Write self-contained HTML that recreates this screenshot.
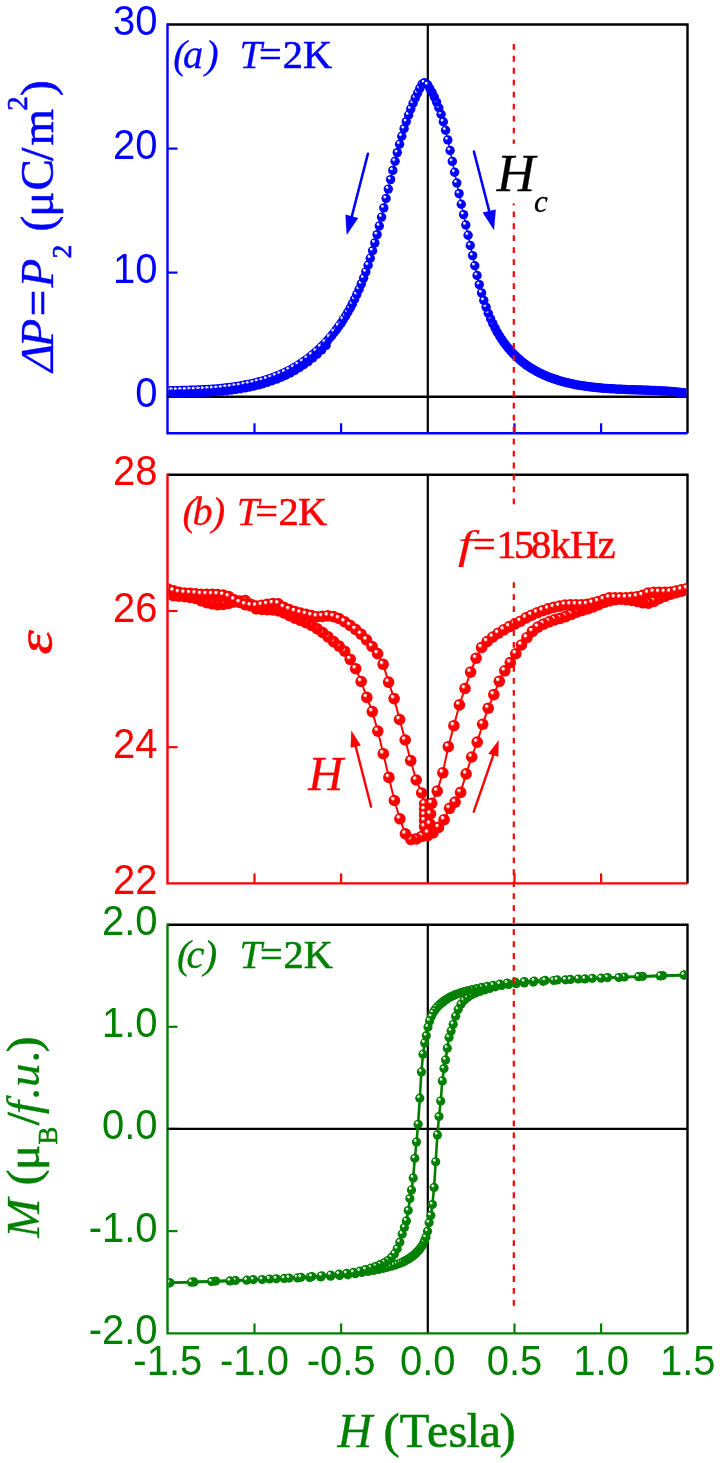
<!DOCTYPE html><html><head><meta charset="utf-8"><style>html,body{margin:0;padding:0;background:#fff;}svg{display:block;}</style></head><body><svg width="720" height="1463" viewBox="0 0 720 1463"><defs><radialGradient id="gb" cx="0.5" cy="0.5" r="0.5" fx="0.3" fy="0.26"><stop offset="0" stop-color="#ffffff"/><stop offset="0.16" stop-color="#ffffff"/><stop offset="0.4" stop-color="#0000ff"/><stop offset="1" stop-color="#0000ff"/></radialGradient><radialGradient id="gr" cx="0.5" cy="0.5" r="0.5" fx="0.3" fy="0.26"><stop offset="0" stop-color="#ffffff"/><stop offset="0.16" stop-color="#ffffff"/><stop offset="0.4" stop-color="#ff0000"/><stop offset="1" stop-color="#ff0000"/></radialGradient><radialGradient id="gg" cx="0.5" cy="0.5" r="0.5" fx="0.3" fy="0.26"><stop offset="0" stop-color="#ffffff"/><stop offset="0.16" stop-color="#ffffff"/><stop offset="0.4" stop-color="#008000"/><stop offset="1" stop-color="#008000"/></radialGradient><clipPath id="ca"><rect x="168.7" y="25.7" width="517.6" height="406.40000000000003"/></clipPath><clipPath id="cb"><rect x="168.7" y="476" width="517.6" height="406.20000000000005"/></clipPath><clipPath id="cc"><rect x="168.7" y="926" width="517.6" height="406.20000000000005"/></clipPath></defs><rect width="720" height="1463" fill="#fff"/><line x1="427.8" y1="24.5" x2="427.8" y2="433.3" stroke="#000" stroke-width="2.2"/><polyline fill="none" stroke="#000" stroke-width="2.4" points="167.5,24.5 687.5,24.5 687.5,433.3"/><polyline fill="none" stroke="#0000ff" stroke-width="2.4" points="167.5,23.3 167.5,433.3 687.5,433.3"/><line x1="254.5" y1="433.3" x2="254.5" y2="423.3" stroke="#0000ff" stroke-width="2.2"/><line x1="341.1" y1="433.3" x2="341.1" y2="423.3" stroke="#0000ff" stroke-width="2.2"/><line x1="514.5" y1="433.3" x2="514.5" y2="423.3" stroke="#0000ff" stroke-width="2.2"/><line x1="601.1" y1="433.3" x2="601.1" y2="423.3" stroke="#0000ff" stroke-width="2.2"/><line x1="167.5" y1="272.6" x2="177.5" y2="272.6" stroke="#0000ff" stroke-width="2.2"/><line x1="167.5" y1="148.6" x2="177.5" y2="148.6" stroke="#0000ff" stroke-width="2.2"/><line x1="167.5" y1="396.75" x2="687.5" y2="396.75" stroke="#000" stroke-width="2.4"/><line x1="427.8" y1="474.8" x2="427.8" y2="883.4" stroke="#000" stroke-width="2.2"/><polyline fill="none" stroke="#000" stroke-width="2.4" points="167.5,474.8 687.5,474.8 687.5,883.4"/><polyline fill="none" stroke="#ff0000" stroke-width="2.4" points="167.5,473.6 167.5,883.4 687.5,883.4"/><line x1="254.5" y1="883.4" x2="254.5" y2="873.4" stroke="#ff0000" stroke-width="2.2"/><line x1="341.1" y1="883.4" x2="341.1" y2="873.4" stroke="#ff0000" stroke-width="2.2"/><line x1="514.5" y1="883.4" x2="514.5" y2="873.4" stroke="#ff0000" stroke-width="2.2"/><line x1="601.1" y1="883.4" x2="601.1" y2="873.4" stroke="#ff0000" stroke-width="2.2"/><line x1="167.5" y1="747.2" x2="177.5" y2="747.2" stroke="#ff0000" stroke-width="2.2"/><line x1="167.5" y1="611" x2="177.5" y2="611" stroke="#ff0000" stroke-width="2.2"/><line x1="427.8" y1="924.8" x2="427.8" y2="1333.4" stroke="#000" stroke-width="2.2"/><polyline fill="none" stroke="#000" stroke-width="2.4" points="167.5,924.8 687.5,924.8 687.5,1333.4"/><polyline fill="none" stroke="#008000" stroke-width="2.4" points="167.5,923.5999999999999 167.5,1333.4 687.5,1333.4"/><line x1="254.5" y1="1333.4" x2="254.5" y2="1323.4" stroke="#008000" stroke-width="2.2"/><line x1="341.1" y1="1333.4" x2="341.1" y2="1323.4" stroke="#008000" stroke-width="2.2"/><line x1="514.5" y1="1333.4" x2="514.5" y2="1323.4" stroke="#008000" stroke-width="2.2"/><line x1="601.1" y1="1333.4" x2="601.1" y2="1323.4" stroke="#008000" stroke-width="2.2"/><line x1="167.5" y1="1231.1" x2="177.5" y2="1231.1" stroke="#008000" stroke-width="2.2"/><line x1="167.5" y1="1128.9" x2="177.5" y2="1128.9" stroke="#008000" stroke-width="2.2"/><line x1="167.5" y1="1026.8" x2="177.5" y2="1026.8" stroke="#008000" stroke-width="2.2"/><line x1="167.5" y1="1128.9" x2="687.5" y2="1128.9" stroke="#000" stroke-width="2.4"/><g clip-path="url(#ca)"><polyline fill="none" stroke="#0000ff" stroke-width="1.5" stroke-linejoin="round" points="167.8,390.7 170.1,390.7 172.3,390.6 174.6,390.6 176.8,390.6 179.1,390.6 181.3,390.5 183.6,390.5 185.8,390.4 188.1,390.4 190.3,390.3 192.6,390.3 194.8,390.2 197.1,390.1 199.3,390 201.6,389.9 203.8,389.8 206.1,389.7 208.3,389.5 210.6,389.4 212.8,389.2 215.1,389.1 217.3,388.9 219.6,388.7 221.8,388.5 224.1,388.2 226.3,388 228.6,387.7 230.8,387.4 233.1,387.1 235.3,386.8 237.6,386.4 239.8,386.1 242.1,385.7 244.3,385.3 246.6,384.8 248.8,384.4 251.1,383.9 253.3,383.4 255.6,382.9 257.8,382.3 260.1,381.7 262.3,381.1 264.6,380.4 266.8,379.7 269.1,379 271.3,378.2 273.6,377.4 275.8,376.5 278.1,375.6 280.3,374.7 282.6,373.7 284.8,372.6 287.1,371.5 289.3,370.4 291.6,369.2 293.8,367.9 296.1,366.6 298.3,365.2 300.6,363.7 302.8,362.2 305.1,360.6 307.3,359 309.6,357.2 311.8,355.4 314.1,353.5 316.3,351.6 318.6,349.5 320.8,347.4 323.1,345.1 325.3,342.8 327.6,340.4 329.8,337.8 332.1,335.1 334.3,332.3 336.6,329.4 338.8,326.3 341.1,323.1 343.3,319.6 345.6,316 347.8,312.2 350.1,308.2 352.3,303.9 354.6,299.3 356.8,294.5 359.1,289.3 361.3,283.9 363.6,278.1 365.8,271.9 368.1,265.2 370.3,258.2 372.6,250.8 374.8,242.9 377.1,234.6 379.3,226 381.6,217.1 383.8,207.9 386.1,198.5 388.3,189.1 390.6,179.6 392.8,170.4 395.1,161.3 397.3,152.6 399.6,144.2 401.8,136.2 404.1,128.6 406.3,121.6 408.6,115 410.8,108.9 413.1,103.2 415.3,97.9 417.6,93 419.8,88.4 422.1,84.1 424.3,82.8"/><polyline fill="none" stroke="#0000ff" stroke-width="1.5" stroke-linejoin="round" points="427.6,84.8 429.8,88.5 432.1,92.5 434.3,97 436.6,102.1 438.8,107.8 441.1,114.3 443.3,121.7 445.6,130.3 447.8,139.9 450.1,150.5 452.3,161.4 454.6,172.3 456.8,183 459.1,193.6 461.3,204.2 463.6,214.6 465.8,225 468.1,235.2 470.3,245.5 472.6,255.6 474.8,265.7 477.1,275.5 479.3,284.6 481.6,292.9 483.8,300.4 486.1,307.1 488.3,313.2 490.6,318.7 492.8,323.6 495.1,328.1 497.3,332.3 499.6,336 501.8,339.5 504.1,342.7 506.3,345.7 508.6,348.4 510.8,351 513,353.4 515.3,355.7 517.5,357.8 519.8,359.8 522,361.7 524.3,363.5 526.5,365.1 528.8,366.7 531,368.1 533.3,369.5 535.5,370.8 537.8,372 540,373.1 542.3,374.2 544.5,375.2 546.8,376.2 549,377.1 551.3,378 553.5,378.8 555.8,379.5 558,380.2 560.3,380.9 562.5,381.6 564.8,382.2 567,382.7 569.3,383.3 571.5,383.8 573.8,384.2 576,384.7 578.3,385.1 580.5,385.5 582.8,385.8 585,386.2 587.3,386.5 589.5,386.8 591.8,387.1 594,387.3 596.3,387.6 598.5,387.8 600.8,388 603,388.2 605.3,388.4 607.5,388.5 609.8,388.7 612,388.8 614.3,388.9 616.5,389.1 618.8,389.2 621,389.3 623.3,389.4 625.5,389.5 627.8,389.6 630,389.7 632.3,389.7 634.5,389.8 636.8,389.9 639,390 641.3,390 643.5,390.1 645.8,390.2 648,390.3 650.3,390.4 652.5,390.4 654.8,390.5 657,390.6 659.3,390.8 661.5,390.9 663.8,391 666,391.1 668.3,391.3 670.5,391.5 672.8,391.6 675,391.8 677.3,392.1 679.5,392.3 681.8,392.6 684,392.8 686.3,393.2"/><circle cx="168.6" cy="393.3" r="4.7" fill="#0000ff"/><circle cx="173.1" cy="393.2" r="4.7" fill="#0000ff"/><circle cx="177.6" cy="393.2" r="4.7" fill="#0000ff"/><circle cx="182.1" cy="393.1" r="4.7" fill="#0000ff"/><circle cx="186.6" cy="393" r="4.7" fill="#0000ff"/><circle cx="191.1" cy="392.9" r="4.7" fill="#0000ff"/><circle cx="195.6" cy="392.8" r="4.7" fill="#0000ff"/><circle cx="200.1" cy="392.6" r="4.7" fill="#0000ff"/><circle cx="204.6" cy="392.4" r="4.7" fill="#0000ff"/><circle cx="209.1" cy="392.1" r="4.7" fill="#0000ff"/><circle cx="213.6" cy="391.8" r="4.7" fill="#0000ff"/><circle cx="218.1" cy="391.5" r="4.7" fill="#0000ff"/><circle cx="222.6" cy="391.1" r="4.7" fill="#0000ff"/><circle cx="227.1" cy="390.6" r="4.7" fill="#0000ff"/><circle cx="231.6" cy="390" r="4.7" fill="#0000ff"/><circle cx="236.1" cy="389.4" r="4.7" fill="#0000ff"/><circle cx="240.6" cy="388.7" r="4.7" fill="#0000ff"/><circle cx="245.1" cy="387.9" r="4.7" fill="#0000ff"/><circle cx="249.6" cy="387" r="4.7" fill="#0000ff"/><circle cx="254.1" cy="386" r="4.7" fill="#0000ff"/><circle cx="258.6" cy="384.9" r="4.7" fill="#0000ff"/><circle cx="263.1" cy="383.7" r="4.7" fill="#0000ff"/><circle cx="267.6" cy="382.3" r="4.7" fill="#0000ff"/><circle cx="272.1" cy="380.8" r="4.7" fill="#0000ff"/><circle cx="276.6" cy="379.1" r="4.7" fill="#0000ff"/><circle cx="281.1" cy="377.3" r="4.7" fill="#0000ff"/><circle cx="285.6" cy="375.2" r="4.7" fill="#0000ff"/><circle cx="290.1" cy="373" r="4.7" fill="#0000ff"/><circle cx="294.6" cy="370.5" r="4.7" fill="#0000ff"/><circle cx="299.1" cy="367.8" r="4.7" fill="#0000ff"/><circle cx="303.6" cy="364.8" r="4.7" fill="#0000ff"/><circle cx="308.1" cy="361.6" r="4.7" fill="#0000ff"/><circle cx="312.6" cy="358" r="4.7" fill="#0000ff"/><circle cx="317.1" cy="354.2" r="4.7" fill="#0000ff"/><circle cx="321.6" cy="350" r="4.7" fill="#0000ff"/><circle cx="326.1" cy="345.4" r="4.7" fill="#0000ff"/><circle cx="167.8" cy="390.7" r="4.7" fill="url(#gb)"/><circle cx="170.1" cy="390.7" r="4.7" fill="url(#gb)"/><circle cx="172.3" cy="390.6" r="4.7" fill="url(#gb)"/><circle cx="174.6" cy="390.6" r="4.7" fill="url(#gb)"/><circle cx="176.8" cy="390.6" r="4.7" fill="url(#gb)"/><circle cx="179.1" cy="390.6" r="4.7" fill="url(#gb)"/><circle cx="181.3" cy="390.5" r="4.7" fill="url(#gb)"/><circle cx="183.6" cy="390.5" r="4.7" fill="url(#gb)"/><circle cx="185.8" cy="390.4" r="4.7" fill="url(#gb)"/><circle cx="188.1" cy="390.4" r="4.7" fill="url(#gb)"/><circle cx="190.3" cy="390.3" r="4.7" fill="url(#gb)"/><circle cx="192.6" cy="390.3" r="4.7" fill="url(#gb)"/><circle cx="194.8" cy="390.2" r="4.7" fill="url(#gb)"/><circle cx="197.1" cy="390.1" r="4.7" fill="url(#gb)"/><circle cx="199.3" cy="390" r="4.7" fill="url(#gb)"/><circle cx="201.6" cy="389.9" r="4.7" fill="url(#gb)"/><circle cx="203.8" cy="389.8" r="4.7" fill="url(#gb)"/><circle cx="206.1" cy="389.7" r="4.7" fill="url(#gb)"/><circle cx="208.3" cy="389.5" r="4.7" fill="url(#gb)"/><circle cx="210.6" cy="389.4" r="4.7" fill="url(#gb)"/><circle cx="212.8" cy="389.2" r="4.7" fill="url(#gb)"/><circle cx="215.1" cy="389.1" r="4.7" fill="url(#gb)"/><circle cx="217.3" cy="388.9" r="4.7" fill="url(#gb)"/><circle cx="219.6" cy="388.7" r="4.7" fill="url(#gb)"/><circle cx="221.8" cy="388.5" r="4.7" fill="url(#gb)"/><circle cx="224.1" cy="388.2" r="4.7" fill="url(#gb)"/><circle cx="226.3" cy="388" r="4.7" fill="url(#gb)"/><circle cx="228.6" cy="387.7" r="4.7" fill="url(#gb)"/><circle cx="230.8" cy="387.4" r="4.7" fill="url(#gb)"/><circle cx="233.1" cy="387.1" r="4.7" fill="url(#gb)"/><circle cx="235.3" cy="386.8" r="4.7" fill="url(#gb)"/><circle cx="237.6" cy="386.4" r="4.7" fill="url(#gb)"/><circle cx="239.8" cy="386.1" r="4.7" fill="url(#gb)"/><circle cx="242.1" cy="385.7" r="4.7" fill="url(#gb)"/><circle cx="244.3" cy="385.3" r="4.7" fill="url(#gb)"/><circle cx="246.6" cy="384.8" r="4.7" fill="url(#gb)"/><circle cx="248.8" cy="384.4" r="4.7" fill="url(#gb)"/><circle cx="251.1" cy="383.9" r="4.7" fill="url(#gb)"/><circle cx="253.3" cy="383.4" r="4.7" fill="url(#gb)"/><circle cx="255.6" cy="382.9" r="4.7" fill="url(#gb)"/><circle cx="257.8" cy="382.3" r="4.7" fill="url(#gb)"/><circle cx="260.1" cy="381.7" r="4.7" fill="url(#gb)"/><circle cx="262.3" cy="381.1" r="4.7" fill="url(#gb)"/><circle cx="264.6" cy="380.4" r="4.7" fill="url(#gb)"/><circle cx="266.8" cy="379.7" r="4.7" fill="url(#gb)"/><circle cx="269.1" cy="379" r="4.7" fill="url(#gb)"/><circle cx="271.3" cy="378.2" r="4.7" fill="url(#gb)"/><circle cx="273.6" cy="377.4" r="4.7" fill="url(#gb)"/><circle cx="275.8" cy="376.5" r="4.7" fill="url(#gb)"/><circle cx="278.1" cy="375.6" r="4.7" fill="url(#gb)"/><circle cx="280.3" cy="374.7" r="4.7" fill="url(#gb)"/><circle cx="282.6" cy="373.7" r="4.7" fill="url(#gb)"/><circle cx="284.8" cy="372.6" r="4.7" fill="url(#gb)"/><circle cx="287.1" cy="371.5" r="4.7" fill="url(#gb)"/><circle cx="289.3" cy="370.4" r="4.7" fill="url(#gb)"/><circle cx="291.6" cy="369.2" r="4.7" fill="url(#gb)"/><circle cx="293.8" cy="367.9" r="4.7" fill="url(#gb)"/><circle cx="296.1" cy="366.6" r="4.7" fill="url(#gb)"/><circle cx="298.3" cy="365.2" r="4.7" fill="url(#gb)"/><circle cx="300.6" cy="363.7" r="4.7" fill="url(#gb)"/><circle cx="302.8" cy="362.2" r="4.7" fill="url(#gb)"/><circle cx="305.1" cy="360.6" r="4.7" fill="url(#gb)"/><circle cx="307.3" cy="359" r="4.7" fill="url(#gb)"/><circle cx="309.6" cy="357.2" r="4.7" fill="url(#gb)"/><circle cx="311.8" cy="355.4" r="4.7" fill="url(#gb)"/><circle cx="314.1" cy="353.5" r="4.7" fill="url(#gb)"/><circle cx="316.3" cy="351.6" r="4.7" fill="url(#gb)"/><circle cx="318.6" cy="349.5" r="4.7" fill="url(#gb)"/><circle cx="320.8" cy="347.4" r="4.7" fill="url(#gb)"/><circle cx="323.1" cy="345.1" r="4.7" fill="url(#gb)"/><circle cx="325.3" cy="342.8" r="4.7" fill="url(#gb)"/><circle cx="327.6" cy="340.4" r="4.7" fill="url(#gb)"/><circle cx="329.8" cy="337.8" r="4.7" fill="url(#gb)"/><circle cx="332.1" cy="335.1" r="4.7" fill="url(#gb)"/><circle cx="334.3" cy="332.3" r="4.7" fill="url(#gb)"/><circle cx="336.6" cy="329.4" r="4.7" fill="url(#gb)"/><circle cx="338.8" cy="326.3" r="4.7" fill="url(#gb)"/><circle cx="341.1" cy="323.1" r="4.7" fill="url(#gb)"/><circle cx="343.3" cy="319.6" r="4.7" fill="url(#gb)"/><circle cx="345.6" cy="316" r="4.7" fill="url(#gb)"/><circle cx="347.8" cy="312.2" r="4.7" fill="url(#gb)"/><circle cx="350.1" cy="308.2" r="4.7" fill="url(#gb)"/><circle cx="352.3" cy="303.9" r="4.7" fill="url(#gb)"/><circle cx="354.6" cy="299.3" r="4.7" fill="url(#gb)"/><circle cx="356.8" cy="294.5" r="4.7" fill="url(#gb)"/><circle cx="359.1" cy="289.3" r="4.7" fill="url(#gb)"/><circle cx="361.3" cy="283.9" r="4.7" fill="url(#gb)"/><circle cx="363.6" cy="278.1" r="4.7" fill="url(#gb)"/><circle cx="365.8" cy="271.9" r="4.7" fill="url(#gb)"/><circle cx="368.1" cy="265.2" r="4.7" fill="url(#gb)"/><circle cx="370.3" cy="258.2" r="4.7" fill="url(#gb)"/><circle cx="372.6" cy="250.8" r="4.7" fill="url(#gb)"/><circle cx="374.8" cy="242.9" r="4.7" fill="url(#gb)"/><circle cx="377.1" cy="234.6" r="4.7" fill="url(#gb)"/><circle cx="379.3" cy="226" r="4.7" fill="url(#gb)"/><circle cx="381.6" cy="217.1" r="4.7" fill="url(#gb)"/><circle cx="383.8" cy="207.9" r="4.7" fill="url(#gb)"/><circle cx="386.1" cy="198.5" r="4.7" fill="url(#gb)"/><circle cx="388.3" cy="189.1" r="4.7" fill="url(#gb)"/><circle cx="390.6" cy="179.6" r="4.7" fill="url(#gb)"/><circle cx="392.8" cy="170.4" r="4.7" fill="url(#gb)"/><circle cx="395.1" cy="161.3" r="4.7" fill="url(#gb)"/><circle cx="397.3" cy="152.6" r="4.7" fill="url(#gb)"/><circle cx="399.6" cy="144.2" r="4.7" fill="url(#gb)"/><circle cx="401.8" cy="136.2" r="4.7" fill="url(#gb)"/><circle cx="404.1" cy="128.6" r="4.7" fill="url(#gb)"/><circle cx="406.3" cy="121.6" r="4.7" fill="url(#gb)"/><circle cx="408.6" cy="115" r="4.7" fill="url(#gb)"/><circle cx="410.8" cy="108.9" r="4.7" fill="url(#gb)"/><circle cx="413.1" cy="103.2" r="4.7" fill="url(#gb)"/><circle cx="415.3" cy="97.9" r="4.7" fill="url(#gb)"/><circle cx="417.6" cy="93" r="4.7" fill="url(#gb)"/><circle cx="419.8" cy="88.4" r="4.7" fill="url(#gb)"/><circle cx="422.1" cy="84.1" r="4.7" fill="url(#gb)"/><circle cx="424.3" cy="82.8" r="4.7" fill="url(#gb)"/><circle cx="686.3" cy="393.2" r="4.7" fill="url(#gb)"/><circle cx="684" cy="392.8" r="4.7" fill="url(#gb)"/><circle cx="681.8" cy="392.6" r="4.7" fill="url(#gb)"/><circle cx="679.5" cy="392.3" r="4.7" fill="url(#gb)"/><circle cx="677.3" cy="392.1" r="4.7" fill="url(#gb)"/><circle cx="675" cy="391.8" r="4.7" fill="url(#gb)"/><circle cx="672.8" cy="391.6" r="4.7" fill="url(#gb)"/><circle cx="670.5" cy="391.5" r="4.7" fill="url(#gb)"/><circle cx="668.3" cy="391.3" r="4.7" fill="url(#gb)"/><circle cx="666" cy="391.1" r="4.7" fill="url(#gb)"/><circle cx="663.8" cy="391" r="4.7" fill="url(#gb)"/><circle cx="661.5" cy="390.9" r="4.7" fill="url(#gb)"/><circle cx="659.3" cy="390.8" r="4.7" fill="url(#gb)"/><circle cx="657" cy="390.6" r="4.7" fill="url(#gb)"/><circle cx="654.8" cy="390.5" r="4.7" fill="url(#gb)"/><circle cx="652.5" cy="390.4" r="4.7" fill="url(#gb)"/><circle cx="650.3" cy="390.4" r="4.7" fill="url(#gb)"/><circle cx="648" cy="390.3" r="4.7" fill="url(#gb)"/><circle cx="645.8" cy="390.2" r="4.7" fill="url(#gb)"/><circle cx="643.5" cy="390.1" r="4.7" fill="url(#gb)"/><circle cx="641.3" cy="390" r="4.7" fill="url(#gb)"/><circle cx="639" cy="390" r="4.7" fill="url(#gb)"/><circle cx="636.8" cy="389.9" r="4.7" fill="url(#gb)"/><circle cx="634.5" cy="389.8" r="4.7" fill="url(#gb)"/><circle cx="632.3" cy="389.7" r="4.7" fill="url(#gb)"/><circle cx="630" cy="389.7" r="4.7" fill="url(#gb)"/><circle cx="627.8" cy="389.6" r="4.7" fill="url(#gb)"/><circle cx="625.5" cy="389.5" r="4.7" fill="url(#gb)"/><circle cx="623.3" cy="389.4" r="4.7" fill="url(#gb)"/><circle cx="621" cy="389.3" r="4.7" fill="url(#gb)"/><circle cx="618.8" cy="389.2" r="4.7" fill="url(#gb)"/><circle cx="616.5" cy="389.1" r="4.7" fill="url(#gb)"/><circle cx="614.3" cy="388.9" r="4.7" fill="url(#gb)"/><circle cx="612" cy="388.8" r="4.7" fill="url(#gb)"/><circle cx="609.8" cy="388.7" r="4.7" fill="url(#gb)"/><circle cx="607.5" cy="388.5" r="4.7" fill="url(#gb)"/><circle cx="605.3" cy="388.4" r="4.7" fill="url(#gb)"/><circle cx="603" cy="388.2" r="4.7" fill="url(#gb)"/><circle cx="600.8" cy="388" r="4.7" fill="url(#gb)"/><circle cx="598.5" cy="387.8" r="4.7" fill="url(#gb)"/><circle cx="596.3" cy="387.6" r="4.7" fill="url(#gb)"/><circle cx="594" cy="387.3" r="4.7" fill="url(#gb)"/><circle cx="591.8" cy="387.1" r="4.7" fill="url(#gb)"/><circle cx="589.5" cy="386.8" r="4.7" fill="url(#gb)"/><circle cx="587.3" cy="386.5" r="4.7" fill="url(#gb)"/><circle cx="585" cy="386.2" r="4.7" fill="url(#gb)"/><circle cx="582.8" cy="385.8" r="4.7" fill="url(#gb)"/><circle cx="580.5" cy="385.5" r="4.7" fill="url(#gb)"/><circle cx="578.3" cy="385.1" r="4.7" fill="url(#gb)"/><circle cx="576" cy="384.7" r="4.7" fill="url(#gb)"/><circle cx="573.8" cy="384.2" r="4.7" fill="url(#gb)"/><circle cx="571.5" cy="383.8" r="4.7" fill="url(#gb)"/><circle cx="569.3" cy="383.3" r="4.7" fill="url(#gb)"/><circle cx="567" cy="382.7" r="4.7" fill="url(#gb)"/><circle cx="564.8" cy="382.2" r="4.7" fill="url(#gb)"/><circle cx="562.5" cy="381.6" r="4.7" fill="url(#gb)"/><circle cx="560.3" cy="380.9" r="4.7" fill="url(#gb)"/><circle cx="558" cy="380.2" r="4.7" fill="url(#gb)"/><circle cx="555.8" cy="379.5" r="4.7" fill="url(#gb)"/><circle cx="553.5" cy="378.8" r="4.7" fill="url(#gb)"/><circle cx="551.3" cy="378" r="4.7" fill="url(#gb)"/><circle cx="549" cy="377.1" r="4.7" fill="url(#gb)"/><circle cx="546.8" cy="376.2" r="4.7" fill="url(#gb)"/><circle cx="544.5" cy="375.2" r="4.7" fill="url(#gb)"/><circle cx="542.3" cy="374.2" r="4.7" fill="url(#gb)"/><circle cx="540" cy="373.1" r="4.7" fill="url(#gb)"/><circle cx="537.8" cy="372" r="4.7" fill="url(#gb)"/><circle cx="535.5" cy="370.8" r="4.7" fill="url(#gb)"/><circle cx="533.3" cy="369.5" r="4.7" fill="url(#gb)"/><circle cx="531" cy="368.1" r="4.7" fill="url(#gb)"/><circle cx="528.8" cy="366.7" r="4.7" fill="url(#gb)"/><circle cx="526.5" cy="365.1" r="4.7" fill="url(#gb)"/><circle cx="524.3" cy="363.5" r="4.7" fill="url(#gb)"/><circle cx="522" cy="361.7" r="4.7" fill="url(#gb)"/><circle cx="519.8" cy="359.8" r="4.7" fill="url(#gb)"/><circle cx="517.5" cy="357.8" r="4.7" fill="url(#gb)"/><circle cx="515.3" cy="355.7" r="4.7" fill="url(#gb)"/><circle cx="513" cy="353.4" r="4.7" fill="url(#gb)"/><circle cx="510.8" cy="351" r="4.7" fill="url(#gb)"/><circle cx="508.6" cy="348.4" r="4.7" fill="url(#gb)"/><circle cx="506.3" cy="345.7" r="4.7" fill="url(#gb)"/><circle cx="504.1" cy="342.7" r="4.7" fill="url(#gb)"/><circle cx="501.8" cy="339.5" r="4.7" fill="url(#gb)"/><circle cx="499.6" cy="336" r="4.7" fill="url(#gb)"/><circle cx="497.3" cy="332.3" r="4.7" fill="url(#gb)"/><circle cx="495.1" cy="328.1" r="4.7" fill="url(#gb)"/><circle cx="492.8" cy="323.6" r="4.7" fill="url(#gb)"/><circle cx="490.6" cy="318.7" r="4.7" fill="url(#gb)"/><circle cx="488.3" cy="313.2" r="4.7" fill="url(#gb)"/><circle cx="486.1" cy="307.1" r="4.7" fill="url(#gb)"/><circle cx="483.8" cy="300.4" r="4.7" fill="url(#gb)"/><circle cx="481.6" cy="292.9" r="4.7" fill="url(#gb)"/><circle cx="479.3" cy="284.6" r="4.7" fill="url(#gb)"/><circle cx="477.1" cy="275.5" r="4.7" fill="url(#gb)"/><circle cx="474.8" cy="265.7" r="4.7" fill="url(#gb)"/><circle cx="472.6" cy="255.6" r="4.7" fill="url(#gb)"/><circle cx="470.3" cy="245.5" r="4.7" fill="url(#gb)"/><circle cx="468.1" cy="235.2" r="4.7" fill="url(#gb)"/><circle cx="465.8" cy="225" r="4.7" fill="url(#gb)"/><circle cx="463.6" cy="214.6" r="4.7" fill="url(#gb)"/><circle cx="461.3" cy="204.2" r="4.7" fill="url(#gb)"/><circle cx="459.1" cy="193.6" r="4.7" fill="url(#gb)"/><circle cx="456.8" cy="183" r="4.7" fill="url(#gb)"/><circle cx="454.6" cy="172.3" r="4.7" fill="url(#gb)"/><circle cx="452.3" cy="161.4" r="4.7" fill="url(#gb)"/><circle cx="450.1" cy="150.5" r="4.7" fill="url(#gb)"/><circle cx="447.8" cy="139.9" r="4.7" fill="url(#gb)"/><circle cx="445.6" cy="130.3" r="4.7" fill="url(#gb)"/><circle cx="443.3" cy="121.7" r="4.7" fill="url(#gb)"/><circle cx="441.1" cy="114.3" r="4.7" fill="url(#gb)"/><circle cx="438.8" cy="107.8" r="4.7" fill="url(#gb)"/><circle cx="436.6" cy="102.1" r="4.7" fill="url(#gb)"/><circle cx="434.3" cy="97" r="4.7" fill="url(#gb)"/><circle cx="432.1" cy="92.5" r="4.7" fill="url(#gb)"/><circle cx="429.8" cy="88.5" r="4.7" fill="url(#gb)"/><circle cx="427.6" cy="84.8" r="4.7" fill="url(#gb)"/><circle cx="166.2" cy="388.5" r="1.25" fill="#fff" opacity="0.9"/><circle cx="170.7" cy="388.4" r="1.25" fill="#fff" opacity="0.9"/><circle cx="175.2" cy="388.4" r="1.25" fill="#fff" opacity="0.9"/><circle cx="179.7" cy="388.3" r="1.25" fill="#fff" opacity="0.9"/><circle cx="184.2" cy="388.2" r="1.25" fill="#fff" opacity="0.9"/><circle cx="188.7" cy="388.1" r="1.25" fill="#fff" opacity="0.9"/><circle cx="193.2" cy="388" r="1.25" fill="#fff" opacity="0.9"/><circle cx="197.7" cy="387.8" r="1.25" fill="#fff" opacity="0.9"/><circle cx="202.2" cy="387.6" r="1.25" fill="#fff" opacity="0.9"/><circle cx="206.7" cy="387.3" r="1.25" fill="#fff" opacity="0.9"/><circle cx="211.2" cy="387" r="1.25" fill="#fff" opacity="0.9"/><circle cx="215.7" cy="386.7" r="1.25" fill="#fff" opacity="0.9"/><circle cx="220.2" cy="386.3" r="1.25" fill="#fff" opacity="0.9"/><circle cx="224.7" cy="385.8" r="1.25" fill="#fff" opacity="0.9"/><circle cx="229.2" cy="385.2" r="1.25" fill="#fff" opacity="0.9"/><circle cx="233.7" cy="384.6" r="1.25" fill="#fff" opacity="0.9"/><circle cx="238.2" cy="383.9" r="1.25" fill="#fff" opacity="0.9"/><circle cx="242.7" cy="383.1" r="1.25" fill="#fff" opacity="0.9"/><circle cx="247.2" cy="382.2" r="1.25" fill="#fff" opacity="0.9"/><circle cx="251.7" cy="381.2" r="1.25" fill="#fff" opacity="0.9"/><circle cx="256.2" cy="380.1" r="1.25" fill="#fff" opacity="0.9"/><circle cx="260.7" cy="378.9" r="1.25" fill="#fff" opacity="0.9"/><circle cx="265.2" cy="377.5" r="1.25" fill="#fff" opacity="0.9"/><circle cx="269.7" cy="376" r="1.25" fill="#fff" opacity="0.9"/><circle cx="274.2" cy="374.3" r="1.25" fill="#fff" opacity="0.9"/><circle cx="278.7" cy="372.5" r="1.25" fill="#fff" opacity="0.9"/><circle cx="283.2" cy="370.4" r="1.25" fill="#fff" opacity="0.9"/><circle cx="287.7" cy="368.2" r="1.25" fill="#fff" opacity="0.9"/><circle cx="292.2" cy="365.7" r="1.25" fill="#fff" opacity="0.9"/><circle cx="296.7" cy="363" r="1.25" fill="#fff" opacity="0.9"/><circle cx="301.2" cy="360" r="1.25" fill="#fff" opacity="0.9"/><circle cx="305.7" cy="356.8" r="1.25" fill="#fff" opacity="0.9"/><circle cx="310.2" cy="353.2" r="1.25" fill="#fff" opacity="0.9"/><circle cx="314.7" cy="349.4" r="1.25" fill="#fff" opacity="0.9"/><circle cx="319.2" cy="345.2" r="1.25" fill="#fff" opacity="0.9"/><circle cx="323.7" cy="340.6" r="1.25" fill="#fff" opacity="0.9"/><circle cx="328.2" cy="335.6" r="1.25" fill="#fff" opacity="0.9"/><circle cx="332.7" cy="330.1" r="1.25" fill="#fff" opacity="0.9"/><circle cx="337.2" cy="324.1" r="1.25" fill="#fff" opacity="0.9"/><circle cx="341.7" cy="317.4" r="1.25" fill="#fff" opacity="0.9"/></g><g clip-path="url(#cb)"><polyline fill="none" stroke="#ff0000" stroke-width="2" stroke-linejoin="round" points="168,594 173.5,595.6 179,596.2 184.6,596.7 190.1,597.4 195.6,598.5 201.1,600.6 206.6,602.6 212.2,603.8 217.7,604.6 223.2,604.5 228.7,603.3 234.3,602 239.8,601.1 245.3,600.6 250.8,604.2 256.3,608.8 261.9,609.4 267.4,609.7 272.9,610 278.4,610.8 283.9,612.9 289.5,615.7 295,618.1 300.5,620.3 306,622.6 311.6,625.3 317.1,628.7 322.6,632.5 328.1,636.9 333.6,641.6 339.2,646.1 344.7,651.2 350.2,659.3 355.7,668.7 361.2,681.5 366.8,697.4 372.3,711.6 377.8,731.1 383.3,753.7 388.9,777.4 394.4,800.5 399.9,818.8 405.4,833.9 410.9,839.5 416.5,838.9 422,836.3 427.5,835.6 433,832.8 438.5,827.4 444.1,819.7 449.6,808.3 455.1,802.1 460.6,792.4 466.1,773.9 471.7,757 477.2,742.1 482.7,724.2 488.2,708.2 493.8,694.6 499.3,681.3 504.8,670.8 510.3,662.6 515.8,653.7 521.4,645 526.9,637.7 532.4,631.4 537.9,627.1 543.4,624.1 549,621.8 554.5,619.9 560,618.4 565.5,616.6 571.1,614.4 576.6,612.1 582.1,610.4 587.6,608.8 593.1,607 598.7,604.6 604.2,602.3 609.7,600.8 615.2,599.6 620.7,599.2 626.3,599.7 631.8,600.4 637.3,601.4 642.8,602.8 648.4,603.2 653.9,601.4 659.4,598.5 664.9,596.3 670.4,594.2 676,592.6 681.5,591.2 687,590"/><polyline fill="none" stroke="#ff0000" stroke-width="2" stroke-linejoin="round" points="168,589 173.5,590.9 179,592.4 184.5,593.1 190.1,593.4 195.6,593.8 201.1,594.3 206.6,594.4 212.1,594.4 217.6,594.5 223.2,595.1 228.7,596.6 234.2,599.9 239.7,602.5 245.2,604.6 250.7,605.8 256.2,606 261.8,605.2 267.3,604.4 272.8,603.5 278.3,603.8 283.8,607.2 289.3,609.5 294.9,611.5 300.4,613 305.9,614.2 311.4,615.6 316.9,616.7 322.4,616.4 327.9,615.8 333.5,616.6 339,618.5 344.5,621.7 350,625.3 355.5,629.3 361,634.1 366.5,639.9 372.1,646.5 377.6,653.6 383.1,664.3 388.6,682.1 394.1,698.6 399.6,719.5 405.2,740 410.7,760.6 416.2,780 421.7,793 424.6,804 424.6,809.6 424.6,815 424.6,820.5 424.6,826.7 428,833 430,824 430.5,814 431.7,803.3 437.2,791.1 442.8,772.8 448.3,746.7 453.9,725.7 459.4,704.9 465,688.5 470.6,672.1 476.1,658.2 481.6,647.5 487.2,641.5 492.8,637 498.3,633.2 503.8,629.8 509.4,626.6 515,623.9 520.5,621.2 526,617.9 531.6,615.2 537.1,612.8 542.7,610.7 548.2,608.9 553.8,607.3 559.4,606.1 564.9,605 570.5,604.7 576,604.7 581.5,604.7 587.1,604.4 592.6,603.1 598.2,601.6 603.8,599.6 609.3,597.9 614.9,597.8 620.4,597.8 626,597.8 631.5,597.4 637,596.7 642.6,595.4 648.1,593.1 653.7,592.2 659.2,592.2 664.8,592.2 670.4,592 675.9,591 681.5,589.8 687,588.5"/><circle cx="687" cy="590" r="5.8" fill="url(#gr)"/><circle cx="681.5" cy="591.2" r="5.8" fill="url(#gr)"/><circle cx="676" cy="592.6" r="5.8" fill="url(#gr)"/><circle cx="670.4" cy="594.2" r="5.8" fill="url(#gr)"/><circle cx="664.9" cy="596.3" r="5.8" fill="url(#gr)"/><circle cx="659.4" cy="598.5" r="5.8" fill="url(#gr)"/><circle cx="653.9" cy="601.4" r="5.8" fill="url(#gr)"/><circle cx="648.4" cy="603.2" r="5.8" fill="url(#gr)"/><circle cx="642.8" cy="602.8" r="5.8" fill="url(#gr)"/><circle cx="637.3" cy="601.4" r="5.8" fill="url(#gr)"/><circle cx="631.8" cy="600.4" r="5.8" fill="url(#gr)"/><circle cx="626.3" cy="599.7" r="5.8" fill="url(#gr)"/><circle cx="620.7" cy="599.2" r="5.8" fill="url(#gr)"/><circle cx="615.2" cy="599.6" r="5.8" fill="url(#gr)"/><circle cx="609.7" cy="600.8" r="5.8" fill="url(#gr)"/><circle cx="604.2" cy="602.3" r="5.8" fill="url(#gr)"/><circle cx="598.7" cy="604.6" r="5.8" fill="url(#gr)"/><circle cx="593.1" cy="607" r="5.8" fill="url(#gr)"/><circle cx="587.6" cy="608.8" r="5.8" fill="url(#gr)"/><circle cx="582.1" cy="610.4" r="5.8" fill="url(#gr)"/><circle cx="576.6" cy="612.1" r="5.8" fill="url(#gr)"/><circle cx="571.1" cy="614.4" r="5.8" fill="url(#gr)"/><circle cx="565.5" cy="616.6" r="5.8" fill="url(#gr)"/><circle cx="560" cy="618.4" r="5.8" fill="url(#gr)"/><circle cx="554.5" cy="619.9" r="5.8" fill="url(#gr)"/><circle cx="549" cy="621.8" r="5.8" fill="url(#gr)"/><circle cx="543.4" cy="624.1" r="5.8" fill="url(#gr)"/><circle cx="537.9" cy="627.1" r="5.8" fill="url(#gr)"/><circle cx="532.4" cy="631.4" r="5.8" fill="url(#gr)"/><circle cx="526.9" cy="637.7" r="5.8" fill="url(#gr)"/><circle cx="521.4" cy="645" r="5.8" fill="url(#gr)"/><circle cx="515.8" cy="653.7" r="5.8" fill="url(#gr)"/><circle cx="510.3" cy="662.6" r="5.8" fill="url(#gr)"/><circle cx="504.8" cy="670.8" r="5.8" fill="url(#gr)"/><circle cx="499.3" cy="681.3" r="5.8" fill="url(#gr)"/><circle cx="493.8" cy="694.6" r="5.8" fill="url(#gr)"/><circle cx="488.2" cy="708.2" r="5.8" fill="url(#gr)"/><circle cx="482.7" cy="724.2" r="5.8" fill="url(#gr)"/><circle cx="477.2" cy="742.1" r="5.8" fill="url(#gr)"/><circle cx="471.7" cy="757" r="5.8" fill="url(#gr)"/><circle cx="466.1" cy="773.9" r="5.8" fill="url(#gr)"/><circle cx="460.6" cy="792.4" r="5.8" fill="url(#gr)"/><circle cx="455.1" cy="802.1" r="5.8" fill="url(#gr)"/><circle cx="449.6" cy="808.3" r="5.8" fill="url(#gr)"/><circle cx="444.1" cy="819.7" r="5.8" fill="url(#gr)"/><circle cx="438.5" cy="827.4" r="5.8" fill="url(#gr)"/><circle cx="433" cy="832.8" r="5.8" fill="url(#gr)"/><circle cx="427.5" cy="835.6" r="5.8" fill="url(#gr)"/><circle cx="422" cy="836.3" r="5.8" fill="url(#gr)"/><circle cx="416.5" cy="838.9" r="5.8" fill="url(#gr)"/><circle cx="410.9" cy="839.5" r="5.8" fill="url(#gr)"/><circle cx="405.4" cy="833.9" r="5.8" fill="url(#gr)"/><circle cx="399.9" cy="818.8" r="5.8" fill="url(#gr)"/><circle cx="394.4" cy="800.5" r="5.8" fill="url(#gr)"/><circle cx="388.9" cy="777.4" r="5.8" fill="url(#gr)"/><circle cx="383.3" cy="753.7" r="5.8" fill="url(#gr)"/><circle cx="377.8" cy="731.1" r="5.8" fill="url(#gr)"/><circle cx="372.3" cy="711.6" r="5.8" fill="url(#gr)"/><circle cx="366.8" cy="697.4" r="5.8" fill="url(#gr)"/><circle cx="361.2" cy="681.5" r="5.8" fill="url(#gr)"/><circle cx="355.7" cy="668.7" r="5.8" fill="url(#gr)"/><circle cx="350.2" cy="659.3" r="5.8" fill="url(#gr)"/><circle cx="344.7" cy="651.2" r="5.8" fill="url(#gr)"/><circle cx="339.2" cy="646.1" r="5.8" fill="url(#gr)"/><circle cx="333.6" cy="641.6" r="5.8" fill="url(#gr)"/><circle cx="328.1" cy="636.9" r="5.8" fill="url(#gr)"/><circle cx="322.6" cy="632.5" r="5.8" fill="url(#gr)"/><circle cx="317.1" cy="628.7" r="5.8" fill="url(#gr)"/><circle cx="311.6" cy="625.3" r="5.8" fill="url(#gr)"/><circle cx="306" cy="622.6" r="5.8" fill="url(#gr)"/><circle cx="300.5" cy="620.3" r="5.8" fill="url(#gr)"/><circle cx="295" cy="618.1" r="5.8" fill="url(#gr)"/><circle cx="289.5" cy="615.7" r="5.8" fill="url(#gr)"/><circle cx="283.9" cy="612.9" r="5.8" fill="url(#gr)"/><circle cx="278.4" cy="610.8" r="5.8" fill="url(#gr)"/><circle cx="272.9" cy="610" r="5.8" fill="url(#gr)"/><circle cx="267.4" cy="609.7" r="5.8" fill="url(#gr)"/><circle cx="261.9" cy="609.4" r="5.8" fill="url(#gr)"/><circle cx="256.3" cy="608.8" r="5.8" fill="url(#gr)"/><circle cx="250.8" cy="604.2" r="5.8" fill="url(#gr)"/><circle cx="245.3" cy="600.6" r="5.8" fill="url(#gr)"/><circle cx="239.8" cy="601.1" r="5.8" fill="url(#gr)"/><circle cx="234.3" cy="602" r="5.8" fill="url(#gr)"/><circle cx="228.7" cy="603.3" r="5.8" fill="url(#gr)"/><circle cx="223.2" cy="604.5" r="5.8" fill="url(#gr)"/><circle cx="217.7" cy="604.6" r="5.8" fill="url(#gr)"/><circle cx="212.2" cy="603.8" r="5.8" fill="url(#gr)"/><circle cx="206.6" cy="602.6" r="5.8" fill="url(#gr)"/><circle cx="201.1" cy="600.6" r="5.8" fill="url(#gr)"/><circle cx="195.6" cy="598.5" r="5.8" fill="url(#gr)"/><circle cx="190.1" cy="597.4" r="5.8" fill="url(#gr)"/><circle cx="184.6" cy="596.7" r="5.8" fill="url(#gr)"/><circle cx="179" cy="596.2" r="5.8" fill="url(#gr)"/><circle cx="173.5" cy="595.6" r="5.8" fill="url(#gr)"/><circle cx="168" cy="594" r="5.8" fill="url(#gr)"/><circle cx="168" cy="589" r="5.8" fill="url(#gr)"/><circle cx="173.5" cy="590.9" r="5.8" fill="url(#gr)"/><circle cx="179" cy="592.4" r="5.8" fill="url(#gr)"/><circle cx="184.5" cy="593.1" r="5.8" fill="url(#gr)"/><circle cx="190.1" cy="593.4" r="5.8" fill="url(#gr)"/><circle cx="195.6" cy="593.8" r="5.8" fill="url(#gr)"/><circle cx="201.1" cy="594.3" r="5.8" fill="url(#gr)"/><circle cx="206.6" cy="594.4" r="5.8" fill="url(#gr)"/><circle cx="212.1" cy="594.4" r="5.8" fill="url(#gr)"/><circle cx="217.6" cy="594.5" r="5.8" fill="url(#gr)"/><circle cx="223.2" cy="595.1" r="5.8" fill="url(#gr)"/><circle cx="228.7" cy="596.6" r="5.8" fill="url(#gr)"/><circle cx="234.2" cy="599.9" r="5.8" fill="url(#gr)"/><circle cx="239.7" cy="602.5" r="5.8" fill="url(#gr)"/><circle cx="245.2" cy="604.6" r="5.8" fill="url(#gr)"/><circle cx="250.7" cy="605.8" r="5.8" fill="url(#gr)"/><circle cx="256.2" cy="606" r="5.8" fill="url(#gr)"/><circle cx="261.8" cy="605.2" r="5.8" fill="url(#gr)"/><circle cx="267.3" cy="604.4" r="5.8" fill="url(#gr)"/><circle cx="272.8" cy="603.5" r="5.8" fill="url(#gr)"/><circle cx="278.3" cy="603.8" r="5.8" fill="url(#gr)"/><circle cx="283.8" cy="607.2" r="5.8" fill="url(#gr)"/><circle cx="289.3" cy="609.5" r="5.8" fill="url(#gr)"/><circle cx="294.9" cy="611.5" r="5.8" fill="url(#gr)"/><circle cx="300.4" cy="613" r="5.8" fill="url(#gr)"/><circle cx="305.9" cy="614.2" r="5.8" fill="url(#gr)"/><circle cx="311.4" cy="615.6" r="5.8" fill="url(#gr)"/><circle cx="316.9" cy="616.7" r="5.8" fill="url(#gr)"/><circle cx="322.4" cy="616.4" r="5.8" fill="url(#gr)"/><circle cx="327.9" cy="615.8" r="5.8" fill="url(#gr)"/><circle cx="333.5" cy="616.6" r="5.8" fill="url(#gr)"/><circle cx="339" cy="618.5" r="5.8" fill="url(#gr)"/><circle cx="344.5" cy="621.7" r="5.8" fill="url(#gr)"/><circle cx="350" cy="625.3" r="5.8" fill="url(#gr)"/><circle cx="355.5" cy="629.3" r="5.8" fill="url(#gr)"/><circle cx="361" cy="634.1" r="5.8" fill="url(#gr)"/><circle cx="366.5" cy="639.9" r="5.8" fill="url(#gr)"/><circle cx="372.1" cy="646.5" r="5.8" fill="url(#gr)"/><circle cx="377.6" cy="653.6" r="5.8" fill="url(#gr)"/><circle cx="383.1" cy="664.3" r="5.8" fill="url(#gr)"/><circle cx="388.6" cy="682.1" r="5.8" fill="url(#gr)"/><circle cx="394.1" cy="698.6" r="5.8" fill="url(#gr)"/><circle cx="399.6" cy="719.5" r="5.8" fill="url(#gr)"/><circle cx="405.2" cy="740" r="5.8" fill="url(#gr)"/><circle cx="410.7" cy="760.6" r="5.8" fill="url(#gr)"/><circle cx="416.2" cy="780" r="5.8" fill="url(#gr)"/><circle cx="421.7" cy="793" r="5.8" fill="url(#gr)"/><circle cx="424.6" cy="804" r="5.8" fill="url(#gr)"/><circle cx="424.6" cy="809.6" r="5.8" fill="url(#gr)"/><circle cx="424.6" cy="815" r="5.8" fill="url(#gr)"/><circle cx="424.6" cy="820.5" r="5.8" fill="url(#gr)"/><circle cx="424.6" cy="826.7" r="5.8" fill="url(#gr)"/><circle cx="428" cy="833" r="5.8" fill="url(#gr)"/><circle cx="430" cy="824" r="5.8" fill="url(#gr)"/><circle cx="430.5" cy="814" r="5.8" fill="url(#gr)"/><circle cx="431.7" cy="803.3" r="5.8" fill="url(#gr)"/><circle cx="437.2" cy="791.1" r="5.8" fill="url(#gr)"/><circle cx="442.8" cy="772.8" r="5.8" fill="url(#gr)"/><circle cx="448.3" cy="746.7" r="5.8" fill="url(#gr)"/><circle cx="453.9" cy="725.7" r="5.8" fill="url(#gr)"/><circle cx="459.4" cy="704.9" r="5.8" fill="url(#gr)"/><circle cx="465" cy="688.5" r="5.8" fill="url(#gr)"/><circle cx="470.6" cy="672.1" r="5.8" fill="url(#gr)"/><circle cx="476.1" cy="658.2" r="5.8" fill="url(#gr)"/><circle cx="481.6" cy="647.5" r="5.8" fill="url(#gr)"/><circle cx="487.2" cy="641.5" r="5.8" fill="url(#gr)"/><circle cx="492.8" cy="637" r="5.8" fill="url(#gr)"/><circle cx="498.3" cy="633.2" r="5.8" fill="url(#gr)"/><circle cx="503.8" cy="629.8" r="5.8" fill="url(#gr)"/><circle cx="509.4" cy="626.6" r="5.8" fill="url(#gr)"/><circle cx="515" cy="623.9" r="5.8" fill="url(#gr)"/><circle cx="520.5" cy="621.2" r="5.8" fill="url(#gr)"/><circle cx="526" cy="617.9" r="5.8" fill="url(#gr)"/><circle cx="531.6" cy="615.2" r="5.8" fill="url(#gr)"/><circle cx="537.1" cy="612.8" r="5.8" fill="url(#gr)"/><circle cx="542.7" cy="610.7" r="5.8" fill="url(#gr)"/><circle cx="548.2" cy="608.9" r="5.8" fill="url(#gr)"/><circle cx="553.8" cy="607.3" r="5.8" fill="url(#gr)"/><circle cx="559.4" cy="606.1" r="5.8" fill="url(#gr)"/><circle cx="564.9" cy="605" r="5.8" fill="url(#gr)"/><circle cx="570.5" cy="604.7" r="5.8" fill="url(#gr)"/><circle cx="576" cy="604.7" r="5.8" fill="url(#gr)"/><circle cx="581.5" cy="604.7" r="5.8" fill="url(#gr)"/><circle cx="587.1" cy="604.4" r="5.8" fill="url(#gr)"/><circle cx="592.6" cy="603.1" r="5.8" fill="url(#gr)"/><circle cx="598.2" cy="601.6" r="5.8" fill="url(#gr)"/><circle cx="603.8" cy="599.6" r="5.8" fill="url(#gr)"/><circle cx="609.3" cy="597.9" r="5.8" fill="url(#gr)"/><circle cx="614.9" cy="597.8" r="5.8" fill="url(#gr)"/><circle cx="620.4" cy="597.8" r="5.8" fill="url(#gr)"/><circle cx="626" cy="597.8" r="5.8" fill="url(#gr)"/><circle cx="631.5" cy="597.4" r="5.8" fill="url(#gr)"/><circle cx="637" cy="596.7" r="5.8" fill="url(#gr)"/><circle cx="642.6" cy="595.4" r="5.8" fill="url(#gr)"/><circle cx="648.1" cy="593.1" r="5.8" fill="url(#gr)"/><circle cx="653.7" cy="592.2" r="5.8" fill="url(#gr)"/><circle cx="659.2" cy="592.2" r="5.8" fill="url(#gr)"/><circle cx="664.8" cy="592.2" r="5.8" fill="url(#gr)"/><circle cx="670.4" cy="592" r="5.8" fill="url(#gr)"/><circle cx="675.9" cy="591" r="5.8" fill="url(#gr)"/><circle cx="681.5" cy="589.8" r="5.8" fill="url(#gr)"/><circle cx="687" cy="588.5" r="5.8" fill="url(#gr)"/></g><g clip-path="url(#cc)"><polyline fill="none" stroke="#008000" stroke-width="2.6" stroke-linejoin="round" points="169.9,1282.8 193.9,1281.9 215.6,1281.1 235.4,1280.4 253.3,1279.6 269.5,1279 284.2,1278.4 297.6,1277.9 309.7,1277.4 320.7,1276.9 330.6,1276.2 339.7,1275.6 347.9,1274.8 355.3,1273.7 362,1272.5 368.2,1271.5 373.7,1270.4 378.7,1269.4 383.3,1268.3 387.4,1267.3 391.2,1266.2 394.6,1265.2 397.7,1264.1 400.5,1263 403,1261.9 405.3,1260.8 407.4,1259.6 409.3,1258.4 411,1257.2 412.7,1256 414.3,1254.7 416,1253.2 417.6,1251.6 419.3,1249.7 420.9,1247.5 422.6,1244.9 424.2,1241.5 425.9,1237.2 427.5,1231.3 429.1,1222.7 430.8,1215.4 432.4,1204.6 434.1,1187.4 435.7,1161.8 437.4,1134.9 439,1116.6 440.7,1101 442.3,1080.9 444,1068.6 445.6,1059.9 447.3,1048.2 449.1,1037.4 451.1,1030.9 453.2,1024.3 455.6,1016.2 458.2,1009.4 461,1004.2 464.1,1000.3 467.5,997.4 471.1,995.1 475.2,993.2 479.6,991.5 484.4,989.9 489.7,988.4 495.4,986.8 501.7,985.4 508.6,984.5 516.1,983.7 524.3,982.9 533.3,982.1 543.1,981.3 553.8,980.5 565.5,979.8 578.3,979 592.3,978.3 607.6,977.6 624.3,977 642.6,976.3 662.6,975.6 684.4,975"/><polyline fill="none" stroke="#008000" stroke-width="2.6" stroke-linejoin="round" points="684,975.1 660.2,975.9 638.5,976.7 618.9,977.5 601.2,978.2 585,978.9 570.4,979.4 557.2,979.9 545.1,980.4 534.2,981 524.3,981.6 515.3,982.2 507.2,983.1 499.8,984.2 493.1,985.3 487,986.4 481.5,987.4 476.5,988.5 472,989.5 467.9,990.6 464.2,991.6 460.8,992.7 457.7,993.8 454.9,994.8 452.4,996 450.1,997.1 448,998.3 446.2,999.5 444.5,1000.7 442.8,1001.9 441.2,1003.2 439.5,1004.7 437.9,1006.3 436.2,1008.2 434.6,1010.5 432.9,1013.1 431.3,1016.6 429.6,1021 428,1027 426.3,1035.7 424.7,1042.9 423,1054.2 421.4,1071.9 419.8,1098.2 418.1,1124.3 416.5,1142.1 414.8,1158.3 413.2,1177.9 411.5,1189.9 409.9,1198.6 408.2,1210.5 406.4,1220.9 404.4,1227.4 402.2,1234.1 399.8,1242.2 397.2,1248.8 394.4,1253.9 391.3,1257.7 387.9,1260.6 384.2,1262.8 380.1,1264.7 375.7,1266.4 370.8,1268 365.6,1269.6 359.8,1271.2 353.4,1272.4 346.5,1273.4 339,1274.2 330.7,1275 321.7,1275.8 311.8,1276.5 301,1277.3 289.2,1278.1 276.3,1278.8 262.2,1279.5 246.8,1280.2 230,1280.9 211.6,1281.6 191.5,1282.2 169.5,1282.8"/><circle cx="169.9" cy="1282.8" r="4.6" fill="url(#gg)"/><circle cx="193.9" cy="1281.9" r="4.6" fill="url(#gg)"/><circle cx="215.6" cy="1281.1" r="4.6" fill="url(#gg)"/><circle cx="235.4" cy="1280.4" r="4.6" fill="url(#gg)"/><circle cx="253.3" cy="1279.6" r="4.6" fill="url(#gg)"/><circle cx="269.5" cy="1279" r="4.6" fill="url(#gg)"/><circle cx="284.2" cy="1278.4" r="4.6" fill="url(#gg)"/><circle cx="297.6" cy="1277.9" r="4.6" fill="url(#gg)"/><circle cx="309.7" cy="1277.4" r="4.6" fill="url(#gg)"/><circle cx="320.7" cy="1276.9" r="4.6" fill="url(#gg)"/><circle cx="330.6" cy="1276.2" r="4.6" fill="url(#gg)"/><circle cx="339.7" cy="1275.6" r="4.6" fill="url(#gg)"/><circle cx="347.9" cy="1274.8" r="4.6" fill="url(#gg)"/><circle cx="355.3" cy="1273.7" r="4.6" fill="url(#gg)"/><circle cx="362" cy="1272.5" r="4.6" fill="url(#gg)"/><circle cx="368.2" cy="1271.5" r="4.6" fill="url(#gg)"/><circle cx="373.7" cy="1270.4" r="4.6" fill="url(#gg)"/><circle cx="378.7" cy="1269.4" r="4.6" fill="url(#gg)"/><circle cx="383.3" cy="1268.3" r="4.6" fill="url(#gg)"/><circle cx="387.4" cy="1267.3" r="4.6" fill="url(#gg)"/><circle cx="391.2" cy="1266.2" r="4.6" fill="url(#gg)"/><circle cx="394.6" cy="1265.2" r="4.6" fill="url(#gg)"/><circle cx="397.7" cy="1264.1" r="4.6" fill="url(#gg)"/><circle cx="400.5" cy="1263" r="4.6" fill="url(#gg)"/><circle cx="403" cy="1261.9" r="4.6" fill="url(#gg)"/><circle cx="405.3" cy="1260.8" r="4.6" fill="url(#gg)"/><circle cx="407.4" cy="1259.6" r="4.6" fill="url(#gg)"/><circle cx="409.3" cy="1258.4" r="4.6" fill="url(#gg)"/><circle cx="411" cy="1257.2" r="4.6" fill="url(#gg)"/><circle cx="412.7" cy="1256" r="4.6" fill="url(#gg)"/><circle cx="414.3" cy="1254.7" r="4.6" fill="url(#gg)"/><circle cx="416" cy="1253.2" r="4.6" fill="url(#gg)"/><circle cx="417.6" cy="1251.6" r="4.6" fill="url(#gg)"/><circle cx="419.3" cy="1249.7" r="4.6" fill="url(#gg)"/><circle cx="420.9" cy="1247.5" r="4.6" fill="url(#gg)"/><circle cx="422.6" cy="1244.9" r="4.6" fill="url(#gg)"/><circle cx="424.2" cy="1241.5" r="4.6" fill="url(#gg)"/><circle cx="425.9" cy="1237.2" r="4.6" fill="url(#gg)"/><circle cx="427.5" cy="1231.3" r="4.6" fill="url(#gg)"/><circle cx="429.1" cy="1222.7" r="4.6" fill="url(#gg)"/><circle cx="430.8" cy="1215.4" r="4.6" fill="url(#gg)"/><circle cx="432.4" cy="1204.6" r="4.6" fill="url(#gg)"/><circle cx="434.1" cy="1187.4" r="4.6" fill="url(#gg)"/><circle cx="435.7" cy="1161.8" r="4.6" fill="url(#gg)"/><circle cx="437.4" cy="1134.9" r="4.6" fill="url(#gg)"/><circle cx="439" cy="1116.6" r="4.6" fill="url(#gg)"/><circle cx="440.7" cy="1101" r="4.6" fill="url(#gg)"/><circle cx="442.3" cy="1080.9" r="4.6" fill="url(#gg)"/><circle cx="444" cy="1068.6" r="4.6" fill="url(#gg)"/><circle cx="445.6" cy="1059.9" r="4.6" fill="url(#gg)"/><circle cx="447.3" cy="1048.2" r="4.6" fill="url(#gg)"/><circle cx="449.1" cy="1037.4" r="4.6" fill="url(#gg)"/><circle cx="451.1" cy="1030.9" r="4.6" fill="url(#gg)"/><circle cx="453.2" cy="1024.3" r="4.6" fill="url(#gg)"/><circle cx="455.6" cy="1016.2" r="4.6" fill="url(#gg)"/><circle cx="458.2" cy="1009.4" r="4.6" fill="url(#gg)"/><circle cx="461" cy="1004.2" r="4.6" fill="url(#gg)"/><circle cx="464.1" cy="1000.3" r="4.6" fill="url(#gg)"/><circle cx="467.5" cy="997.4" r="4.6" fill="url(#gg)"/><circle cx="471.1" cy="995.1" r="4.6" fill="url(#gg)"/><circle cx="475.2" cy="993.2" r="4.6" fill="url(#gg)"/><circle cx="479.6" cy="991.5" r="4.6" fill="url(#gg)"/><circle cx="484.4" cy="989.9" r="4.6" fill="url(#gg)"/><circle cx="489.7" cy="988.4" r="4.6" fill="url(#gg)"/><circle cx="495.4" cy="986.8" r="4.6" fill="url(#gg)"/><circle cx="501.7" cy="985.4" r="4.6" fill="url(#gg)"/><circle cx="508.6" cy="984.5" r="4.6" fill="url(#gg)"/><circle cx="516.1" cy="983.7" r="4.6" fill="url(#gg)"/><circle cx="524.3" cy="982.9" r="4.6" fill="url(#gg)"/><circle cx="533.3" cy="982.1" r="4.6" fill="url(#gg)"/><circle cx="543.1" cy="981.3" r="4.6" fill="url(#gg)"/><circle cx="553.8" cy="980.5" r="4.6" fill="url(#gg)"/><circle cx="565.5" cy="979.8" r="4.6" fill="url(#gg)"/><circle cx="578.3" cy="979" r="4.6" fill="url(#gg)"/><circle cx="592.3" cy="978.3" r="4.6" fill="url(#gg)"/><circle cx="607.6" cy="977.6" r="4.6" fill="url(#gg)"/><circle cx="624.3" cy="977" r="4.6" fill="url(#gg)"/><circle cx="642.6" cy="976.3" r="4.6" fill="url(#gg)"/><circle cx="662.6" cy="975.6" r="4.6" fill="url(#gg)"/><circle cx="684.4" cy="975" r="4.6" fill="url(#gg)"/><circle cx="684" cy="975.1" r="4.6" fill="url(#gg)"/><circle cx="660.2" cy="975.9" r="4.6" fill="url(#gg)"/><circle cx="638.5" cy="976.7" r="4.6" fill="url(#gg)"/><circle cx="618.9" cy="977.5" r="4.6" fill="url(#gg)"/><circle cx="601.2" cy="978.2" r="4.6" fill="url(#gg)"/><circle cx="585" cy="978.9" r="4.6" fill="url(#gg)"/><circle cx="570.4" cy="979.4" r="4.6" fill="url(#gg)"/><circle cx="557.2" cy="979.9" r="4.6" fill="url(#gg)"/><circle cx="545.1" cy="980.4" r="4.6" fill="url(#gg)"/><circle cx="534.2" cy="981" r="4.6" fill="url(#gg)"/><circle cx="524.3" cy="981.6" r="4.6" fill="url(#gg)"/><circle cx="515.3" cy="982.2" r="4.6" fill="url(#gg)"/><circle cx="507.2" cy="983.1" r="4.6" fill="url(#gg)"/><circle cx="499.8" cy="984.2" r="4.6" fill="url(#gg)"/><circle cx="493.1" cy="985.3" r="4.6" fill="url(#gg)"/><circle cx="487" cy="986.4" r="4.6" fill="url(#gg)"/><circle cx="481.5" cy="987.4" r="4.6" fill="url(#gg)"/><circle cx="476.5" cy="988.5" r="4.6" fill="url(#gg)"/><circle cx="472" cy="989.5" r="4.6" fill="url(#gg)"/><circle cx="467.9" cy="990.6" r="4.6" fill="url(#gg)"/><circle cx="464.2" cy="991.6" r="4.6" fill="url(#gg)"/><circle cx="460.8" cy="992.7" r="4.6" fill="url(#gg)"/><circle cx="457.7" cy="993.8" r="4.6" fill="url(#gg)"/><circle cx="454.9" cy="994.8" r="4.6" fill="url(#gg)"/><circle cx="452.4" cy="996" r="4.6" fill="url(#gg)"/><circle cx="450.1" cy="997.1" r="4.6" fill="url(#gg)"/><circle cx="448" cy="998.3" r="4.6" fill="url(#gg)"/><circle cx="446.2" cy="999.5" r="4.6" fill="url(#gg)"/><circle cx="444.5" cy="1000.7" r="4.6" fill="url(#gg)"/><circle cx="442.8" cy="1001.9" r="4.6" fill="url(#gg)"/><circle cx="441.2" cy="1003.2" r="4.6" fill="url(#gg)"/><circle cx="439.5" cy="1004.7" r="4.6" fill="url(#gg)"/><circle cx="437.9" cy="1006.3" r="4.6" fill="url(#gg)"/><circle cx="436.2" cy="1008.2" r="4.6" fill="url(#gg)"/><circle cx="434.6" cy="1010.5" r="4.6" fill="url(#gg)"/><circle cx="432.9" cy="1013.1" r="4.6" fill="url(#gg)"/><circle cx="431.3" cy="1016.6" r="4.6" fill="url(#gg)"/><circle cx="429.6" cy="1021" r="4.6" fill="url(#gg)"/><circle cx="428" cy="1027" r="4.6" fill="url(#gg)"/><circle cx="426.3" cy="1035.7" r="4.6" fill="url(#gg)"/><circle cx="424.7" cy="1042.9" r="4.6" fill="url(#gg)"/><circle cx="423" cy="1054.2" r="4.6" fill="url(#gg)"/><circle cx="421.4" cy="1071.9" r="4.6" fill="url(#gg)"/><circle cx="419.8" cy="1098.2" r="4.6" fill="url(#gg)"/><circle cx="418.1" cy="1124.3" r="4.6" fill="url(#gg)"/><circle cx="416.5" cy="1142.1" r="4.6" fill="url(#gg)"/><circle cx="414.8" cy="1158.3" r="4.6" fill="url(#gg)"/><circle cx="413.2" cy="1177.9" r="4.6" fill="url(#gg)"/><circle cx="411.5" cy="1189.9" r="4.6" fill="url(#gg)"/><circle cx="409.9" cy="1198.6" r="4.6" fill="url(#gg)"/><circle cx="408.2" cy="1210.5" r="4.6" fill="url(#gg)"/><circle cx="406.4" cy="1220.9" r="4.6" fill="url(#gg)"/><circle cx="404.4" cy="1227.4" r="4.6" fill="url(#gg)"/><circle cx="402.2" cy="1234.1" r="4.6" fill="url(#gg)"/><circle cx="399.8" cy="1242.2" r="4.6" fill="url(#gg)"/><circle cx="397.2" cy="1248.8" r="4.6" fill="url(#gg)"/><circle cx="394.4" cy="1253.9" r="4.6" fill="url(#gg)"/><circle cx="391.3" cy="1257.7" r="4.6" fill="url(#gg)"/><circle cx="387.9" cy="1260.6" r="4.6" fill="url(#gg)"/><circle cx="384.2" cy="1262.8" r="4.6" fill="url(#gg)"/><circle cx="380.1" cy="1264.7" r="4.6" fill="url(#gg)"/><circle cx="375.7" cy="1266.4" r="4.6" fill="url(#gg)"/><circle cx="370.8" cy="1268" r="4.6" fill="url(#gg)"/><circle cx="365.6" cy="1269.6" r="4.6" fill="url(#gg)"/><circle cx="359.8" cy="1271.2" r="4.6" fill="url(#gg)"/><circle cx="353.4" cy="1272.4" r="4.6" fill="url(#gg)"/><circle cx="346.5" cy="1273.4" r="4.6" fill="url(#gg)"/><circle cx="339" cy="1274.2" r="4.6" fill="url(#gg)"/><circle cx="330.7" cy="1275" r="4.6" fill="url(#gg)"/><circle cx="321.7" cy="1275.8" r="4.6" fill="url(#gg)"/><circle cx="311.8" cy="1276.5" r="4.6" fill="url(#gg)"/><circle cx="301" cy="1277.3" r="4.6" fill="url(#gg)"/><circle cx="289.2" cy="1278.1" r="4.6" fill="url(#gg)"/><circle cx="276.3" cy="1278.8" r="4.6" fill="url(#gg)"/><circle cx="262.2" cy="1279.5" r="4.6" fill="url(#gg)"/><circle cx="246.8" cy="1280.2" r="4.6" fill="url(#gg)"/><circle cx="230" cy="1280.9" r="4.6" fill="url(#gg)"/><circle cx="211.6" cy="1281.6" r="4.6" fill="url(#gg)"/><circle cx="191.5" cy="1282.2" r="4.6" fill="url(#gg)"/><circle cx="169.5" cy="1282.8" r="4.6" fill="url(#gg)"/></g><line x1="513.8" y1="43.9" x2="513.8" y2="1306" stroke="#ff0000" stroke-width="2.2" stroke-dasharray="5.8 6.163"/><line x1="367.9" y1="153.75" x2="351.85" y2="216.25" stroke="#0000ff" stroke-width="2.6" stroke-linecap="round"/><polygon fill="#0000ff" points="346.7,235 345.4,214.6 358.3,217.9"/><line x1="473.9" y1="151.5" x2="489.20000000000005" y2="211.0" stroke="#0000ff" stroke-width="2.6" stroke-linecap="round"/><polygon fill="#0000ff" points="494,230.3 482.6,212.6 495.8,209.4"/><line x1="371.1" y1="806.7" x2="355.75" y2="746.7" stroke="#ff0000" stroke-width="2.4" stroke-linecap="round"/><polygon fill="#ff0000" points="351.3,730.6 350.6,747.8 360.9,745.6"/><line x1="473.75" y1="811.7" x2="493.3" y2="755.225" stroke="#ff0000" stroke-width="2.4" stroke-linecap="round"/><polygon fill="#ff0000" points="498.75,740 488.3,753.75 498.3,756.7"/><text transform="translate(157.6,34.9) scale(1,1.05)" fill="#0000ff" text-anchor="end" style="font-family:'Liberation Sans',Arial,sans-serif;font-size:40px">30</text><text transform="translate(157.6,159.1) scale(1,1.05)" fill="#0000ff" text-anchor="end" style="font-family:'Liberation Sans',Arial,sans-serif;font-size:40px">20</text><text transform="translate(157.6,283.1) scale(1,1.05)" fill="#0000ff" text-anchor="end" style="font-family:'Liberation Sans',Arial,sans-serif;font-size:40px">10</text><text transform="translate(157.6,407.2) scale(1,1.05)" fill="#0000ff" text-anchor="end" style="font-family:'Liberation Sans',Arial,sans-serif;font-size:40px">0</text><text transform="translate(157.6,485.3) scale(1,1.05)" fill="#ff0000" text-anchor="end" style="font-family:'Liberation Sans',Arial,sans-serif;font-size:40px">28</text><text transform="translate(157.6,621.5) scale(1,1.05)" fill="#ff0000" text-anchor="end" style="font-family:'Liberation Sans',Arial,sans-serif;font-size:40px">26</text><text transform="translate(157.6,757.7) scale(1,1.05)" fill="#ff0000" text-anchor="end" style="font-family:'Liberation Sans',Arial,sans-serif;font-size:40px">24</text><text transform="translate(157.6,893.9) scale(1,1.05)" fill="#ff0000" text-anchor="end" style="font-family:'Liberation Sans',Arial,sans-serif;font-size:40px">22</text><text transform="translate(157.6,935.1) scale(1,1.05)" fill="#008000" text-anchor="end" style="font-family:'Liberation Sans',Arial,sans-serif;font-size:40px">2.0</text><text transform="translate(157.6,1037.2) scale(1,1.05)" fill="#008000" text-anchor="end" style="font-family:'Liberation Sans',Arial,sans-serif;font-size:40px">1.0</text><text transform="translate(157.6,1139.4) scale(1,1.05)" fill="#008000" text-anchor="end" style="font-family:'Liberation Sans',Arial,sans-serif;font-size:40px">0.0</text><text transform="translate(157.6,1241.6) scale(1,1.05)" fill="#008000" text-anchor="end" style="font-family:'Liberation Sans',Arial,sans-serif;font-size:40px">-1.0</text><text transform="translate(157.6,1343.7) scale(1,1.05)" fill="#008000" text-anchor="end" style="font-family:'Liberation Sans',Arial,sans-serif;font-size:40px">-2.0</text><text transform="translate(167.8,1374.6) scale(1,1.05)" fill="#008000" text-anchor="middle" style="font-family:'Liberation Sans',Arial,sans-serif;font-size:40px">-1.5</text><text transform="translate(254.5,1374.6) scale(1,1.05)" fill="#008000" text-anchor="middle" style="font-family:'Liberation Sans',Arial,sans-serif;font-size:40px">-1.0</text><text transform="translate(341.1,1374.6) scale(1,1.05)" fill="#008000" text-anchor="middle" style="font-family:'Liberation Sans',Arial,sans-serif;font-size:40px">-0.5</text><text transform="translate(427.8,1374.6) scale(1,1.05)" fill="#008000" text-anchor="middle" style="font-family:'Liberation Sans',Arial,sans-serif;font-size:40px">0.0</text><text transform="translate(514.5,1374.6) scale(1,1.05)" fill="#008000" text-anchor="middle" style="font-family:'Liberation Sans',Arial,sans-serif;font-size:40px">0.5</text><text transform="translate(601.1,1374.6) scale(1,1.05)" fill="#008000" text-anchor="middle" style="font-family:'Liberation Sans',Arial,sans-serif;font-size:40px">1.0</text><text transform="translate(687.8,1374.6) scale(1,1.05)" fill="#008000" text-anchor="middle" style="font-family:'Liberation Sans',Arial,sans-serif;font-size:40px">1.5</text><text fill="#0000ff" stroke="#0000ff" stroke-width="0.6" style="font-family:'Liberation Serif','Times New Roman',serif"><tspan x="173.3" y="68.1" font-size="40.3" font-style="italic" stroke-width="0.3">(</tspan><tspan x="183.0" y="68.1" font-size="40.3" font-style="italic" stroke-width="0.3">a</tspan><tspan x="205.3" y="68.1" font-size="40.3" font-style="italic" stroke-width="0.3">)</tspan><tspan x="239.4" y="68.1" font-size="40.3" font-style="italic" stroke-width="0.3">T</tspan><tspan x="258.9" y="68.1" font-size="40.3">=</tspan><tspan x="282.8" y="68.1" font-size="40.3">2</tspan><tspan x="303.0" y="68.1" font-size="40.3">K</tspan></text><text fill="#ff0000" stroke="#ff0000" stroke-width="0.6" style="font-family:'Liberation Serif','Times New Roman',serif"><tspan x="182.5" y="525.0" font-size="40.3" font-style="italic" stroke-width="0.3">(</tspan><tspan x="192.4" y="525.0" font-size="40.3" font-style="italic" stroke-width="0.3">b</tspan><tspan x="211.7" y="525.0" font-size="40.3" font-style="italic" stroke-width="0.3">)</tspan><tspan x="236.8" y="525.0" font-size="40.3" font-style="italic" stroke-width="0.3">T</tspan><tspan x="255.2" y="525.0" font-size="40.3">=</tspan><tspan x="278.6" y="525.0" font-size="40.3">2</tspan><tspan x="298.0" y="525.0" font-size="40.3">K</tspan></text><text fill="#008000" stroke="#008000" stroke-width="0.6" style="font-family:'Liberation Serif','Times New Roman',serif"><tspan x="176.9" y="967.9" font-size="40.3" font-style="italic" stroke-width="0.3">(</tspan><tspan x="186.5" y="967.9" font-size="40.3" font-style="italic" stroke-width="0.3">c</tspan><tspan x="203.8" y="967.9" font-size="40.3" font-style="italic" stroke-width="0.3">)</tspan><tspan x="239.4" y="967.9" font-size="40.3" font-style="italic" stroke-width="0.3">T</tspan><tspan x="260.0" y="967.9" font-size="40.3">=</tspan><tspan x="283.6" y="967.9" font-size="40.3">2</tspan><tspan x="303.8" y="967.9" font-size="40.3">K</tspan></text><rect x="494" y="143.8" width="60" height="59.7" fill="#fff"/><text fill="#000" stroke="#000" stroke-width="0.6" style="font-family:'Liberation Serif','Times New Roman',serif"><tspan x="496.8" y="191.0" font-size="53" font-style="italic" stroke-width="0.3">H</tspan></text><text fill="#000" stroke="#000" stroke-width="0.6" style="font-family:'Liberation Serif','Times New Roman',serif"><tspan x="534.0" y="211.7" font-size="31" font-style="italic" stroke-width="0.3">c</tspan></text><rect x="455" y="506" width="165" height="73" fill="#fff"/><text transform="translate(457.9,557.5) scale(1.4,1)" fill="#ff0000" stroke="#ff0000" stroke-width="0.15" style="font-family:'Liberation Serif','Times New Roman',serif;font-size:39px;font-style:italic">f</text><text fill="#ff0000" stroke="#ff0000" stroke-width="0.6" style="font-family:'Liberation Serif','Times New Roman',serif"><tspan x="473.0" y="557.5" font-size="40">=</tspan><tspan x="496.5" y="557.5" font-size="40">1</tspan><tspan x="513.9" y="557.5" font-size="40">5</tspan><tspan x="531.0" y="557.5" font-size="40">8</tspan><tspan x="550.5" y="557.5" font-size="40">k</tspan><tspan x="570.1" y="557.5" font-size="40">H</tspan><tspan x="597.7" y="557.5" font-size="40">z</tspan></text><text fill="#ff0000" stroke="#ff0000" stroke-width="0.6" style="font-family:'Liberation Serif','Times New Roman',serif"><tspan x="308.3" y="790.0" font-size="48.4" font-style="italic" stroke-width="0.3">H</tspan></text><text transform="translate(53.0,400) rotate(-90)" fill="#0000ff" stroke="#0000ff" stroke-width="0.6" style="font-family:'Liberation Serif','Times New Roman',serif"><tspan x="28.3" y="0.0" font-size="47" font-style="italic" stroke-width="0.3">Δ</tspan><tspan x="52.5" y="0.0" font-size="47" font-style="italic" stroke-width="0.3">P</tspan><tspan x="83.8" y="0.0" font-size="47">=</tspan><tspan x="112.5" y="0.0" font-size="47" font-style="italic" stroke-width="0.3">P</tspan><tspan x="141.6" y="18.1" font-size="27.6">2</tspan><tspan x="168.6" y="0.0" font-size="47">(</tspan><tspan x="183.2" y="0.0" font-size="47">μ</tspan><tspan x="209.5" y="0.0" font-size="47">C</tspan><tspan x="239.3" y="0.0" font-size="47">/</tspan><tspan x="254.6" y="0.0" font-size="47">m</tspan><tspan x="289.2" y="-25.7" font-size="29">2</tspan><tspan x="304.1" y="0.0" font-size="47">)</tspan></text><text transform="translate(39.4,1250) rotate(-90)" fill="#008000" stroke="#008000" stroke-width="0.6" style="font-family:'Liberation Serif','Times New Roman',serif"><tspan x="12.3" y="0.0" font-size="47" font-style="italic" stroke-width="0.3">M</tspan><tspan x="64.7" y="0.0" font-size="47">(</tspan><tspan x="80.0" y="0.0" font-size="47">μ</tspan><tspan x="105.4" y="17.5" font-size="26.7">B</tspan><tspan x="124.8" y="0.0" font-size="47">/</tspan><tspan x="136.0" y="0.0" font-size="47" font-style="italic" stroke-width="0.3">f</tspan><tspan x="151.3" y="0.0" font-size="47" font-style="italic" stroke-width="0.3">.</tspan><tspan x="163.0" y="0.0" font-size="47" font-style="italic" stroke-width="0.3">u</tspan><tspan x="188.5" y="0.0" font-size="47" font-style="italic" stroke-width="0.3">.</tspan><tspan x="197.7" y="0.0" font-size="47">)</tspan></text><text transform="translate(52.1,653.3) rotate(-90) scale(1.23,1)" fill="#ff0000" stroke="#ff0000" stroke-width="0.6" style="font-family:'Liberation Serif','Times New Roman',serif;font-size:50px;font-style:italic"><tspan x="-1.05" y="0">&#949;</tspan></text><text fill="#008000" stroke="#008000" stroke-width="0.6" style="font-family:'Liberation Serif','Times New Roman',serif"><tspan x="337.4" y="1446.5" font-size="48" font-style="italic" stroke-width="0.3">H</tspan><tspan x="383.4" y="1446.5" font-size="48.4">(</tspan><tspan x="399.7" y="1446.5" font-size="48.4">T</tspan><tspan x="427.0" y="1446.5" font-size="48.4">e</tspan><tspan x="448.6" y="1446.5" font-size="48.4">s</tspan><tspan x="466.6" y="1446.5" font-size="48.4">l</tspan><tspan x="479.5" y="1446.5" font-size="48.4">a</tspan><tspan x="499.5" y="1446.5" font-size="48.4">)</tspan></text></svg></body></html>
